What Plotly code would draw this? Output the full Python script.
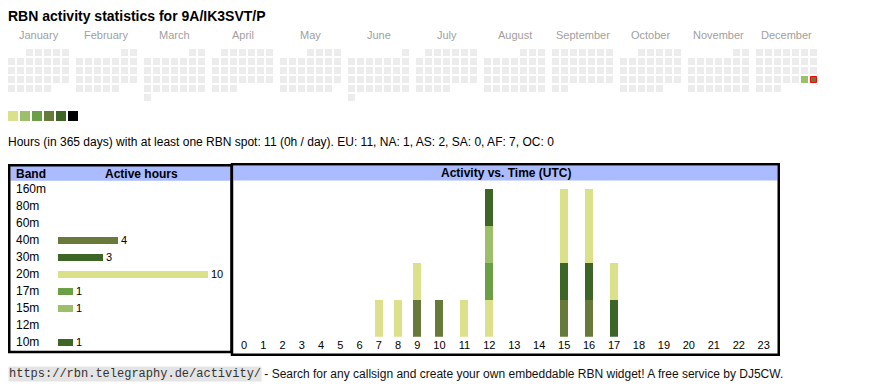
import datetime as dt
import plotly.graph_objects as go

W, H = 870, 390
FONT = "Arial, 'Liberation Sans', sans-serif"
MONO = "'Liberation Mono', 'Courier New', monospace"

# ---------------- data ----------------
title_text = "RBN activity statistics for 9A/IK3SVT/P"
summary_text = ("Hours (in 365 days) with at least one RBN spot: 11 (0h / day). "
                "EU: 11, NA: 1, AS: 2, SA: 0, AF: 7, OC: 0")
footer_url = "https://rbn.telegraphy.de/activity/"
footer_text = " - Search for any callsign and create your own embeddable RBN widget! A free service by DJ5CW."

year = 2025
months = ["January", "February", "March", "April", "May", "June", "July",
          "August", "September", "October", "November", "December"]
level_colors = ["#dbe18b", "#9dbf69", "#6a9f45", "#677a3a", "#3d6526", "#000000"]
empty_color = "#ececec"
active_days = ["2025-12-27", "2025-12-28"]
active_levels = [1, 3]
today = "2025-12-28"

bands = ["160m", "80m", "60m", "40m", "30m", "20m", "17m", "15m", "12m", "10m"]
band_hours = [0, 0, 0, 4, 3, 10, 1, 1, 0, 1]
band_colors = ["#000000", "#000000", "#000000", "#677a3a", "#3d6526",
               "#dbe18b", "#6a9f45", "#9dbf69", "#000000", "#3d6526"]

hour_labels = ["0", "1", "2", "3", "4", "5", "6", "7", "8", "9", "10", "11",
               "12", "13", "14", "15", "16", "17", "18", "19", "20", "21", "22", "23"]
hourly_40m = [0, 0, 0, 0, 0, 0, 0, 0, 0, 1, 1, 0, 0, 0, 0, 1, 1, 0, 0, 0, 0, 0, 0, 0]
hourly_30m = [0, 0, 0, 0, 0, 0, 0, 0, 0, 0, 0, 0, 0, 0, 0, 1, 1, 1, 0, 0, 0, 0, 0, 0]
hourly_20m = [0, 0, 0, 0, 0, 0, 0, 1, 1, 1, 0, 1, 1, 0, 0, 2, 2, 1, 0, 0, 0, 0, 0, 0]
hourly_17m = [0, 0, 0, 0, 0, 0, 0, 0, 0, 0, 0, 0, 1, 0, 0, 0, 0, 0, 0, 0, 0, 0, 0, 0]
hourly_15m = [0, 0, 0, 0, 0, 0, 0, 0, 0, 0, 0, 0, 1, 0, 0, 0, 0, 0, 0, 0, 0, 0, 0, 0]
hourly_10m = [0, 0, 0, 0, 0, 0, 0, 0, 0, 0, 0, 0, 1, 0, 0, 0, 0, 0, 0, 0, 0, 0, 0, 0]
hourly_series = [("40m", hourly_40m), ("30m", hourly_30m), ("20m", hourly_20m),
                 ("17m", hourly_17m), ("15m", hourly_15m), ("10m", hourly_10m)]

# ---------------- layout constants (pixels) ----------------
CAL_X0, CAL_Y0 = 8, 49
MONTH_PITCH, CELL_PITCH, CELL = 68, 9, 7


def py(p):
    return 1 - p / H


def px(p):
    return p / W


fig = go.Figure()

# ---------------- calendar ----------------
cal_x, cal_y, cal_c = [], [], []
tx, ty, tc = [], [], []
active = dict(zip(active_days, active_levels))
for m in range(12):
    first = dt.date(year, m + 1, 1)
    nxt = dt.date(year + (m == 11), (m + 1) % 12 + 1, 1)
    ndays = (nxt - first).days
    off = first.weekday()
    for d in range(ndays):
        pos = off + d
        col, row = pos % 7, pos // 7
        x = CAL_X0 + m * MONTH_PITCH + col * CELL_PITCH + CELL / 2
        y = CAL_Y0 + row * CELL_PITCH + CELL / 2
        key = dt.date(year, m + 1, d + 1).isoformat()
        color = level_colors[active[key]] if key in active else empty_color
        if key == today:
            tx.append(x); ty.append(y); tc.append(color)
        else:
            cal_x.append(x); cal_y.append(y); cal_c.append(color)

fig.add_trace(go.Scatter(x=cal_x, y=cal_y, mode="markers", hoverinfo="skip",
                         marker=dict(symbol="square", size=CELL, color=cal_c, line=dict(width=0)),
                         xaxis="x", yaxis="y", showlegend=False))
fig.add_trace(go.Scatter(x=tx, y=ty, mode="markers", hoverinfo="skip",
                         marker=dict(symbol="square", size=CELL - 1, color=tc,
                                     line=dict(width=1, color="#ff0000")),
                         xaxis="x", yaxis="y", showlegend=False))

# level legend squares
fig.add_trace(go.Scatter(x=[8 + i * 12 + 5 for i in range(len(level_colors))],
                         y=[116] * len(level_colors), mode="markers", hoverinfo="skip",
                         marker=dict(symbol="square", size=10, color=level_colors, line=dict(width=0)),
                         xaxis="x", yaxis="y", showlegend=False))

# ---------------- band table ----------------
fig.add_trace(go.Bar(x=band_hours, y=bands, orientation="h", width=7 / 17,
                     marker=dict(color=band_colors, line=dict(width=0)),
                     text=[str(v) if v else "" for v in band_hours],
                     textposition="outside", constraintext="none", cliponaxis=False,
                     textfont=dict(family=FONT, size=11, color="#000"),
                     hoverinfo="skip", xaxis="x2", yaxis="y2", showlegend=False))

# ---------------- hourly activity ----------------
col_w = [13.58 + 5.68 * len(l) for l in hour_labels]
centers, acc = [], 0.0
for w in col_w:
    centers.append(acc + w / 2)
    acc += w
total_w = acc
HX0 = 234.4

band_color_map = dict(zip(bands, band_colors))
for name, vals in hourly_series:
    fig.add_trace(go.Bar(x=centers, y=vals, width=8, name=name,
                         marker=dict(color=band_color_map[name], line=dict(width=0)),
                         hoverinfo="skip", xaxis="x3", yaxis="y3", showlegend=False))

# ---------------- shapes ----------------
shapes = [
    dict(type="rect", xref="x", yref="y", x0=10.5, x1=230, y0=166, y1=180.7,
         fillcolor="#aabbff", line=dict(width=0), layer="below"),
    dict(type="rect", xref="x", yref="y", x0=233.5, x1=777.5, y0=165.5, y1=180.5,
         fillcolor="#aabbff", line=dict(width=0), layer="below"),
    dict(type="rect", xref="x", yref="y", x0=9.25, x1=231.5, y0=165.25, y1=352,
         line=dict(width=2.5, color="#000"), layer="above"),
    dict(type="rect", xref="x", yref="y", x0=232, x1=778.75, y0=164.25, y1=354.75,
         line=dict(width=2.5, color="#000"), layer="above"),
]

# ---------------- annotations ----------------
ann = []


def text(x, y, s, size=12, color="#000", anchor="left", bold=False, family=FONT, **kw):
    kw.setdefault("borderpad", 0)
    ann.append(dict(x=x, y=y, xref="x", yref="y", text=s, showarrow=False,
                    xanchor=anchor, yanchor="middle",
                    font=dict(family=family, size=size, color=color,
                              weight="bold" if bold else "normal"), **kw))


text(7, 16, title_text, size=14, bold=True)
for m, name in enumerate(months):
    text(CAL_X0 + m * MONTH_PITCH + (7 * CELL_PITCH - 2) / 2, 35, name, size=11,
         color="#a0a0a0", anchor="center")
text(7, 142, summary_text, size=12)
text(15, 173.5, "Band", size=12, bold=True)
text(141.5, 173.5, "Active hours", size=12, bold=True, anchor="center")
text(505.5, 172.5, "Activity vs. Time (UTC)", size=12, bold=True, anchor="center")
text(8, 374, footer_url, size=12, color="#333", family=MONO, bgcolor="#e4e4e4")
text(260, 374, footer_text, size=12, color="#111")

hidden = dict(visible=False, showgrid=False, zeroline=False, fixedrange=True)
fig.update_layout(
    width=W, height=H, margin=dict(l=0, r=0, t=0, b=0, pad=0),
    paper_bgcolor="#ffffff", plot_bgcolor="rgba(0,0,0,0)",
    barmode="stack", showlegend=False, font=dict(family=FONT, color="#000"),
    xaxis=dict(range=[0, W], domain=[0, 1], **hidden),
    yaxis=dict(range=[H, 0], domain=[0, 1], **hidden),
    xaxis2=dict(range=[0, 10], domain=[px(58), px(208)], anchor="y2", **hidden),
    yaxis2=dict(type="category", categoryarray=bands, categoryorder="array",
                range=[9.5, -0.5], domain=[py(350.5), py(180.5)],
                anchor="free", position=px(12), ticklabelposition="inside",
                ticks="", showline=False, showgrid=False, zeroline=False,
                tickfont=dict(family=FONT, size=12, color="#000"), fixedrange=True),
    xaxis3=dict(range=[0, total_w], domain=[px(HX0), px(HX0 + total_w)], anchor="y3",
                tickmode="array", tickvals=centers, ticktext=hour_labels, ticks="",
                showline=False, showgrid=False, zeroline=False, fixedrange=True,
                tickfont=dict(family=FONT, size=11, color="#000")),
    yaxis3=dict(range=[0, 4], domain=[py(336.7), py(189)], anchor="x3", **hidden),
    shapes=shapes, annotations=ann,
)

fig.write_html("out.html", config={"displayModeBar": False, "staticPlot": True},
               post_script="document.body.style.margin='0';")
